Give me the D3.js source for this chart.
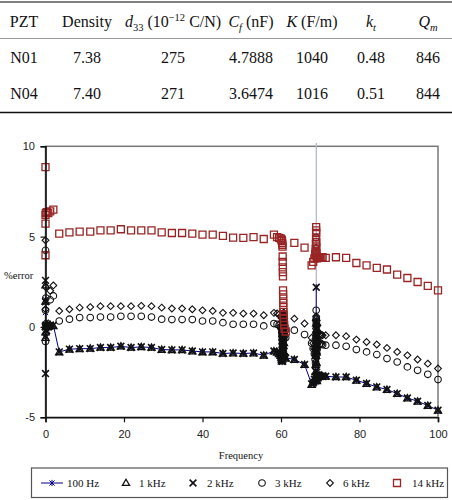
<!DOCTYPE html>
<html><head><meta charset="utf-8">
<script src="https://cdn.jsdelivr.net/npm/d3@7"></script>
<style>body{margin:0;background:#fff}svg{display:block}</style>
</head><body>
<svg id="c" width="452" height="500"></svg>
<script>
// ---------- table data ----------
const tableHeader = [
  [{t:"PZT"}],
  [{t:"Density"}],
  [{t:"d",i:1},{t:"33",sub:1},{t:" (10"},{t:"\u221212",sup:1},{t:" C/N)"}],
  [{t:"C",i:1},{t:"f",i:1,sub:1},{t:" (nF)"}],
  [{t:"K",i:1},{t:" (F/m)"}],
  [{t:"k",i:1},{t:"t",i:1,sub:1}],
  [{t:"Q",i:1},{t:"m",i:1,sub:1}]
];
const tableRows = [
  ["N01","7.38","275","4.7888","1040","0.48","846"],
  ["N04","7.40","271","3.6474","1016","0.51","844"]
];

// ---------- chart data ----------
const freq = [
  0, 0, 0, 0, 0.1, 0.3, 0.7, 1.2, 2.0,
  3.5, 6.1, 8.7, 11.4, 14.0, 16.6, 19.2, 21.8, 24.4, 27.0, 29.6, 32.2, 34.8, 37.4, 40.0, 42.6, 45.2, 47.8, 50.4, 53.0, 55.6, 58.2,
  59.0, 59.5, 59.9, 60.1, 60.2, 60.25, 60.3, 60.35, 60.4, 60.42, 60.44, 60.46, 60.48, 60.5, 60.52, 60.54, 60.56, 60.58, 60.6, 60.62, 60.65, 60.7, 60.75, 60.8, 60.9, 61.2,
  63.4, 66.0,
  67.8, 68.2, 68.5, 68.7, 68.8, 68.85, 68.9, 68.92, 68.94, 68.96, 68.98, 69.0, 69.02, 69.04, 69.06, 69.1, 69.15, 69.2, 69.3, 69.5, 69.8, 70.0, 70.3, 70.6,
  71.4, 74.0, 76.6, 79.2, 81.8, 84.4, 87.0, 89.6, 92.2, 94.8, 97.4, 100.0
];
const err100Hz = [
  1.5, 0.8, -2.58, -0.5, 0.0, -0.1, 0.1, 0.0, 0.1,
  -1.38, -1.23, -1.2, -1.2, -1.14, -1.14, -1.07, -1.14, -1.1, -1.14, -1.25, -1.27, -1.27, -1.33, -1.38, -1.38, -1.47, -1.44, -1.47, -1.44, -1.57, -1.33,
  -1.4, -1.45, -1.55, -1.65, -1.75, -1.85, -1.94, -1.7, -1.5, -1.3, -1.1, -0.9, -0.7, -0.5, -0.3, -0.1, 0.1, 0.3, 0.5, 0.76, 0.4, -0.2, -0.8, -1.3, -1.6, -1.7,
  -1.8, -2.08,
  -3.17, -3.0, -2.9, -2.7, -2.4, -2.0, -1.5, -1.0, -0.4, 0.3, 2.2, 40, -2.6, -2.9, -3.05, -2.9, -2.8, -2.7, -2.75, -2.8, -2.7, -2.75, -2.7, -2.72,
  -2.73, -2.77, -2.77, -2.95, -3.13, -3.32, -3.46, -3.69, -3.93, -4.11, -4.35, -4.61
];
const err1kHz = [
  2.3, 1.4, -0.6, -0.3, 0.0, 0.1, 0.0, 0.1, 0.05,
  -1.4, -1.25, -1.22, -1.2, -1.15, -1.15, -1.08, -1.15, -1.12, -1.15, -1.27, -1.28, -1.28, -1.35, -1.4, -1.4, -1.48, -1.46, -1.48, -1.46, -1.58, -1.35,
  -1.42, -1.5, -1.6, -1.7, -1.8, -1.9, -1.8, -1.6, -1.4, -1.2, -1.0, -0.8, -0.6, -0.4, -0.2, 0.0, 0.2, 0.4, 0.6, 0.7, 0.3, -0.3, -0.9, -1.4, -1.7, -1.75,
  -1.82, -2.1,
  -3.2, -3.05, -2.95, -2.8, -2.5, -2.1, -1.6, -1.1, -0.5, 0.2, 0.5, -0.2, -0.8, -1.4, -2.0, -2.6, -3.0, -2.85, -2.8, -2.75, -2.7, -2.72, -2.7, -2.75,
  -2.75, -2.78, -2.78, -2.97, -3.15, -3.34, -3.48, -3.7, -3.95, -4.13, -4.37, -4.63
];
const err2kHz = [
  2.58, -2.58, 1.4, 0.0, 0.1, -0.2, 0.0, 0.1, 0.1,
  -1.38, -1.23, -1.2, -1.2, -1.14, -1.14, -1.07, -1.14, -1.1, -1.14, -1.25, -1.27, -1.27, -1.33, -1.38, -1.38, -1.47, -1.44, -1.47, -1.44, -1.57, -1.33,
  -1.38, -1.48, -1.58, -1.68, -1.78, -1.88, -1.9, -1.65, -1.45, -1.25, -1.05, -0.85, -0.65, -0.45, -0.25, -0.05, 0.15, 0.35, 0.55, 0.75, 0.35, -0.25, -0.85, -1.35, -1.65, -1.72,
  -1.8, -2.08,
  -3.15, -3.1, -2.9, -2.75, -2.45, -2.05, -1.55, -1.05, -0.45, 0.25, 2.2, -0.1, -0.7, -1.3, -1.9, -2.5, -2.95, -2.9, -2.8, -2.75, -2.7, -2.75, -2.72, -2.74,
  -2.73, -2.77, -2.77, -2.95, -3.13, -3.32, -3.46, -3.69, -3.93, -4.11, -4.35, -4.61
];
const err3kHz = [
  4.24, 0.92, 0.0, -0.8, 1.6, 0.1, 0.0, 1.5, 1.72,
  0.33, 0.43, 0.52, 0.52, 0.55, 0.55, 0.59, 0.59, 0.59, 0.55, 0.43, 0.41, 0.41, 0.41, 0.33, 0.33, 0.24, 0.15, 0.15, 0.15, 0.06, 0.19,
  0.15, 0.1, 0.0, -0.1, -0.3, -0.5, -0.7, -0.9, -1.1, -1.3, -1.5, -1.2, -1.0, -0.8, -0.6, -0.4, -0.2, 0.0, 0.2, 0.4, 0.6, 0.3, 0.0, -0.3, -0.5, -0.6,
  -0.18, -0.42,
  -0.9, -1.2, -1.5, -1.8, -2.0, -1.6, -1.2, 4.95, -0.8, 0.92, 0.48, 0.2, -0.3, -0.7, -1.0, -1.3, -1.5, -1.2, -0.9, -0.8, -0.95, -0.9, -0.95, -0.98,
  -1.01, -1.01, -1.07, -1.25, -1.38, -1.53, -1.75, -1.94, -2.21, -2.4, -2.62, -2.91
];
const err6kHz = [
  4.8, 0.98, 0.2, -0.4, 2.2, 0.1, 0.2, 2.0, 2.3,
  0.89, 0.98, 1.07, 1.1, 1.15, 1.15, 1.15, 1.15, 1.17, 1.15, 1.07, 1.02, 1.02, 0.98, 0.92, 0.89, 0.78, 0.78, 0.74, 0.74, 0.65, 0.78,
  0.75, 0.7, 0.6, 0.5, 0.3, 0.1, -0.1, -0.3, -0.5, -0.7, -0.9, -1.1, -0.9, -0.7, -0.5, -0.3, -0.1, 0.1, 0.3, 0.5, 0.7, 0.8, 0.5, 0.2, 0.0, -0.2,
  0.46, 0.19,
  -0.6, -0.9, -1.2, -1.5, -1.3, -0.9, -0.5, -0.1, 4.39, 0.6, 0.3, 0.0, -0.4, -0.8, -1.1, -0.7, -0.4, -0.2, 0.1, -0.3, -0.4, -0.45, -0.44, -0.46,
  -0.46, -0.46, -0.51, -0.7, -0.83, -0.97, -1.16, -1.38, -1.57, -1.8, -2.03, -2.3
];
const err14kHz = [
  8.85, 5.72, 3.97, 6.2, 6.3, 6.35, 6.3, 6.4, 6.5,
  5.17, 5.24, 5.28, 5.28, 5.35, 5.35, 5.41, 5.35, 5.35, 5.35, 5.24, 5.2, 5.2, 5.17, 5.11, 5.11, 5.04, 4.95, 4.93, 4.97, 4.87, 5.11,
  4.97, 4.93, 4.9, 4.85, 4.8, 4.75, 4.65, 4.55, 4.45, 3.9, 3.6, 3.3, 3.04, 2.8, 2.03, 1.8, 1.57, 1.33, 1.1, 0.83, 0.65, 0.5, 0.3, 0.1, -0.1, -0.25,
  4.65, 4.39,
  3.41, 3.6, 3.79, 4.0, 4.15, 4.34, 4.6, 4.89, 5.35, 5.53, 5.2, 4.7, 4.4, 4.1, 3.95, 3.85, 3.8, 3.82, 3.85, 3.82, 3.86, 3.84, 3.85, 3.86,
  3.82, 3.86, 3.82, 3.54, 3.41, 3.27, 3.18, 2.9, 2.71, 2.49, 2.27, 2.03
];
const seriesNames = ["100 Hz","1 kHz","2 kHz","3 kHz","6 kHz","14 kHz"];
const xTicks = [0,20,40,60,80,100];
const yTicks = [-5,0,5,10];

// ---------- drawing ----------
const svg = d3.select("#c");
const serif = "'Liberation Serif','Times New Roman',serif";
const sans = "'Liberation Sans',Arial,sans-serif";

// table rules
svg.append("line").attr("x1",0).attr("x2",452).attr("y1",2).attr("y2",2).attr("stroke","#555").attr("stroke-width",1.5);
svg.append("line").attr("x1",0).attr("x2",452).attr("y1",38.5).attr("y2",38.5).attr("stroke","#999").attr("stroke-width",1);
svg.append("line").attr("x1",0).attr("x2",452).attr("y1",112.5).attr("y2",112.5).attr("stroke","#111").attr("stroke-width",1.5);

const colX = [24, 87, 173, 251, 312, 371, 428];
tableHeader.forEach((cell, ci) => {
  const t = svg.append("text").attr("x", colX[ci]).attr("y", 27).attr("text-anchor","middle")
    .attr("font-family", serif).attr("font-size", 16).attr("fill","#111");
  let shift = 0;
  cell.forEach(seg => {
    const target = seg.sub ? 4 : seg.sup ? -6 : 0;
    t.append("tspan").text(seg.t)
      .attr("dy", target - shift)
      .attr("font-size", (seg.sub||seg.sup) ? 10.5 : 16)
      .attr("font-style", seg.i ? "italic" : "normal");
    shift = target;
  });
});
tableRows.forEach((row, ri) => {
  row.forEach((v, ci) => {
    svg.append("text").attr("x", colX[ci]).attr("y", 63 + ri*36).attr("text-anchor","middle")
      .attr("font-family", serif).attr("font-size", 16).attr("fill","#111").text(v);
  });
});

// chart
const x = d3.scaleLinear().domain([0,100]).range([45.5,438]);
const y = d3.scaleLinear().domain([-5,10]).range([417.3,146.3]);

svg.append("rect").attr("x",x(0)).attr("y",y(10)).attr("width",x(100)-x(0)).attr("height",y(-5)-y(10))
  .attr("fill","none").attr("stroke","#777").attr("stroke-width",1.5);

svg.append("defs").append("clipPath").attr("id","clip").append("rect")
  .attr("x",x(0)).attr("y",143).attr("width",x(100)-x(0)).attr("height",y(-5)-143);

const shapes = {
  asterisk: s => `M${-s},${-s}L${s},${s}M${s},${-s}L${-s},${s}M0,${-s*1.2}L0,${s*1.2}`,
  triangle: s => `M0,${-s}L${s*0.95},${s*0.65}L${-s*0.95},${s*0.65}Z`,
  x: s => `M${-s},${-s}L${s},${s}M${s},${-s}L${-s},${s}`,
  circle: s => `M${s},0A${s},${s} 0 1 1 ${-s},0A${s},${s} 0 1 1 ${s},0`,
  diamond: s => `M0,${-s}L${s},0L0,${s}L${-s},0Z`,
  square: s => `M${-s},${-s}h${2*s}v${2*s}h${-2*s}Z`
};
const seriesStyle = [
  {vals: err100Hz, shape:"asterisk", size:2.6, color:"#000080", sw:1, line:true},
  {vals: err1kHz, shape:"triangle", size:3.8, color:"#111", sw:1.3},
  {vals: err2kHz, shape:"x", size:3.4, color:"#111", sw:1.6},
  {vals: err3kHz, shape:"circle", size:3.3, color:"#111", sw:1.1},
  {vals: err6kHz, shape:"diamond", size:3.4, color:"#111", sw:1.1},
  {vals: err14kHz, shape:"square", size:3.5, color:"#9a2424", sw:1.3}
];

const inDom = v => v >= -5 && v <= 10;
const plot = svg.append("g");
// line for 100 Hz
const pts = freq.map((f,i) => [f, err100Hz[i]]);
const segs = d3.pairs(pts);
const lineG = plot.append("g").attr("clip-path","url(#clip)");
const seg = d3.line().x(d => x(d[0])).y(d => y(d[1]));
lineG.selectAll("path.light").data(segs.filter(s => !(inDom(s[0][1]) && inDom(s[1][1])))).join("path")
  .attr("d", seg).attr("fill","none").attr("stroke","#b4b8d6").attr("stroke-width",1);
lineG.selectAll("path.dark").data(segs.filter(s => inDom(s[0][1]) && inDom(s[1][1]))).join("path")
  .attr("d", seg).attr("fill","none").attr("stroke","#000080").attr("stroke-width",1);

seriesStyle.forEach(st => {
  const d = freq.map((f,i) => [f, st.vals[i]]).filter(p => inDom(p[1]));
  plot.append("g").selectAll("path").data(d).join("path")
    .attr("transform", p => `translate(${x(p[0])},${y(p[1])})`)
    .attr("d", shapes[st.shape](st.size))
    .attr("fill","none").attr("stroke", st.color).attr("stroke-width", st.sw);
});

// axes
const xa = svg.append("g").attr("transform",`translate(0,${y(-5)})`)
  .call(d3.axisBottom(x).tickValues(xTicks).tickSize(5).tickPadding(8).tickFormat(d => String(d)));
const ya = svg.append("g").attr("transform",`translate(${x(0)},0)`)
  .call(d3.axisLeft(y).tickValues(yTicks).tickSize(5).tickPadding(5.5).tickFormat(d => String(d)));
[xa, ya].forEach(a => {
  a.select(".domain").attr("stroke","#111").attr("stroke-width",1.6);
  a.selectAll(".tick line").attr("stroke","#111").attr("stroke-width",1.2);
  a.selectAll(".tick text").attr("font-family", sans).attr("font-size", 11).attr("fill","#222");
});

svg.append("text").attr("x",241).attr("y",458.5).attr("text-anchor","middle")
  .attr("font-family",serif).attr("font-size",10.5).attr("fill","#111").text("Frequency");
svg.append("text").attr("x",4).attr("y",279).attr("font-family",serif).attr("font-size",10.5)
  .attr("fill","#111").text("%error");

// legend
svg.append("rect").attr("x",31.5).attr("y",468).attr("width",416).attr("height",29.5)
  .attr("fill","#fff").attr("stroke","#555").attr("stroke-width",1.2);
const legMarkX = [52, 126, 193, 262, 330, 397];
const legTextX = [67, 139, 207, 275, 343, 412];
const legY = 483;
svg.append("line").attr("x1",41).attr("x2",63).attr("y1",legY).attr("y2",legY).attr("stroke","#000080").attr("stroke-width",1);
seriesStyle.forEach((st,i) => {
  svg.append("path").attr("transform",`translate(${legMarkX[i]},${legY})`)
    .attr("d", shapes[st.shape](st.size)).attr("fill","none").attr("stroke",st.color).attr("stroke-width",st.sw);
  svg.append("text").attr("x",legTextX[i]).attr("y",legY+3.5).attr("font-family",serif).attr("font-size",11)
    .attr("fill","#111").text(seriesNames[i]);
});
</script>
</body></html>
